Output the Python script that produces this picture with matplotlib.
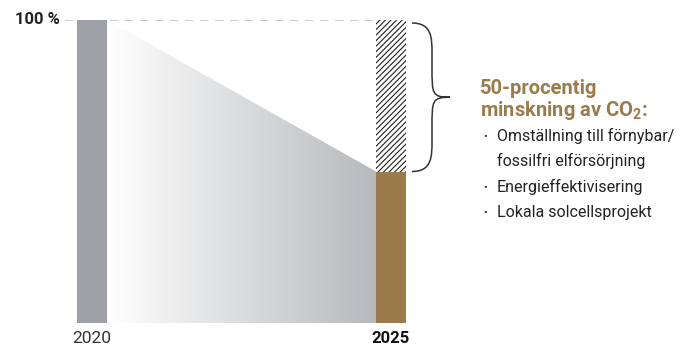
import matplotlib
matplotlib.use("Agg")
import matplotlib.pyplot as plt
import numpy as np
from matplotlib.path import Path
from matplotlib.patches import PathPatch, Polygon
from matplotlib.colors import LinearSegmentedColormap

# Data
years = ["2020", "2025"]
values = [100, 50]
reduction_title = ["50-procentig", "minskning av CO$\\mathregular{_2}$:"]
bullets = ["Omställning till förnybar/\nfossilfri elförsörjning",
           "Energieffektivisering",
           "Lokala solcellsprojekt"]

GRAY = "#9ea1a8"
BROWN = "#9b7b4b"
GRAD_END = "#b7b9bc"

plt.rcParams["font.family"] = ["Roboto", "DejaVu Sans"]
plt.rcParams["hatch.linewidth"] = 0.8
plt.rcParams["hatch.color"] = "#222222"

W, H = 699, 345
fig = plt.figure(figsize=(W / 100, H / 100), dpi=100)
ax = fig.add_axes([0, 22 / H, 1, 303 / H])

bw = 30 / 299
x = np.arange(len(years))
ax.set_xlim(-92 / 299, (W - 92) / 299)
ax.set_ylim(0, 100)
ax.axis("off")

# gradient area between bars
poly = Polygon([(x[0] + bw / 2, values[0]), (x[1] - bw / 2, values[1]),
                (x[1] - bw / 2, 0), (x[0] + bw / 2, 0)],
               closed=True, facecolor="none", edgecolor="none")
ax.add_patch(poly)
cmap = LinearSegmentedColormap.from_list("g", ["#ffffff", GRAD_END])
grad = np.linspace(0, 1, 256).reshape(1, -1)
im = ax.imshow(grad, cmap=cmap, aspect="auto",
               extent=(x[0] + bw / 2, x[1] - bw / 2, 0, values[0]),
               zorder=1, interpolation="bicubic")
im.set_clip_path(poly)

# bars
ax.bar(x[0], values[0], width=bw, color=GRAY, zorder=2)
ax.bar(x[1], values[1], width=bw, color=BROWN, zorder=2)
ax.bar(x[1], values[0] - values[1], bottom=values[1], width=bw,
       facecolor="white", edgecolor="#222222", hatch="//////", linewidth=0, zorder=2)

# dashed 100% line
ax.plot([-27 / 299, x[1] + bw / 2], [values[0], values[0]], color="#c4c4c4",
        linestyle=(0, (5, 4)), linewidth=1.2, zorder=0)

# brace
x0 = x[1] + bw / 2 + 6 / 299
xv = x0 + 20 / 299
xt = x0 + 38 / 299
top, bot = values[0] - 1, values[1]
mid = (top + bot) / 2
r = 10
verts = [(x0, top), (xv, top), (xv, top - r / 2), (xv, top - r),
         (xv, mid + r), (xv, mid + 1), (xv, mid), (xt, mid),
         (xv, mid), (xv, mid - 1), (xv, mid - r),
         (xv, bot + r), (xv, bot + r / 2), (xv, bot), (x0, bot)]
codes = [Path.MOVETO, Path.CURVE4, Path.CURVE4, Path.CURVE4,
         Path.LINETO, Path.CURVE4, Path.CURVE4, Path.CURVE4,
         Path.CURVE4, Path.CURVE4, Path.CURVE4,
         Path.LINETO, Path.CURVE4, Path.CURVE4, Path.CURVE4]
ax.add_patch(PathPatch(Path(verts, codes), facecolor="none",
                       edgecolor="#333333", linewidth=1.1, zorder=3))

# labels
ax.text(-32 / 299, values[0], "100 %", ha="right", va="center",
        fontsize=12, fontweight="bold", color="#222222")
ax.text(x[0], -2.5, years[0], ha="center", va="top", fontsize=12.5, color="#333333")
ax.text(x[1], -2.5, years[1], ha="center", va="top", fontsize=12,
        fontweight="bold", color="#111111")

def fx(px):
    return px / W

def fy(py):
    return 1 - py / H

fig.text(fx(480), fy(88), reduction_title[0], ha="left", va="center",
         fontsize=14.5, fontweight="bold", color=BROWN)
fig.text(fx(480), fy(110), reduction_title[1], ha="left", va="center",
         fontsize=14.5, fontweight="bold", color=BROWN)

ys = [136, 187, 212]
for b, yy in zip(bullets, ys):
    lines = b.split("\n")
    fig.text(fx(483), fy(yy + 1), "•", ha="left", va="center", fontsize=8, color="#333333")
    for i, ln in enumerate(lines):
        fig.text(fx(497), fy(yy + 25 * i), ln, ha="left", va="center",
                 fontsize=11.5, color="#222222")

fig.savefig("out.png", dpi=100)
